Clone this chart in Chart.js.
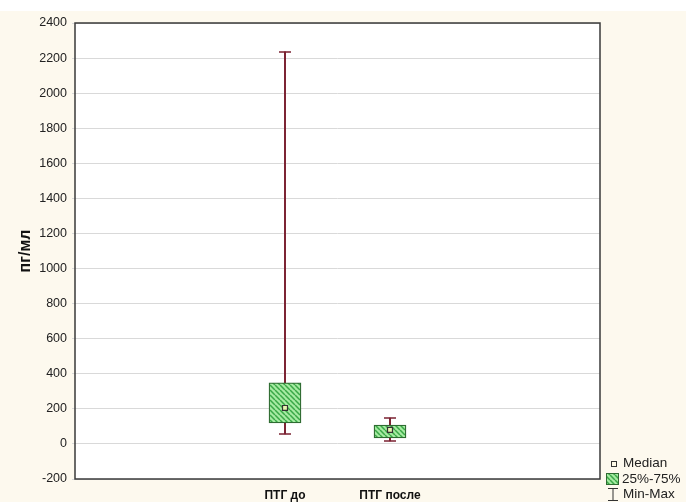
<!DOCTYPE html>
<html>
<head>
<meta charset="utf-8">
<script src="https://cdn.jsdelivr.net/npm/chart.js@4"></script>
<style>
  html, body { margin: 0; padding: 0; background: #fff; }
  #wrap { width: 686px; height: 502px; }
</style>
</head>
<body>
<div id="wrap"><canvas id="grafico" width="686" height="502"></canvas></div>
<script>
// dados
const categorias = ['', '', 'ПТГ до', 'ПТГ после', '', ''];
const minimos  = [null, null, 57, 17, null, null];
const maximos  = [null, null, 2235, 148, null, null];
const q1       = [null, null, 120, 34, null, null];
const q3       = [null, null, 348, 108, null, null];
const medianas = [null, null, 205, 80, null, null];
const yTicks   = { min: -200, max: 2400, step: 200 };

const VERDE_ESC = '#2f6b32';
const VINHO = '#7a2030';
const FONTE = '"Liberation Sans", Arial, sans-serif';

// hachura do box
function hachura() {
  const c = document.createElement('canvas');
  c.width = 5; c.height = 5;
  const g = c.getContext('2d');
  g.fillStyle = '#a6eaa2';
  g.fillRect(0, 0, 5, 5);
  g.strokeStyle = '#3aa847';
  g.lineWidth = 1.5;
  g.beginPath();
  for (let k = -5; k <= 10; k += 5) { g.moveTo(k, 0); g.lineTo(k + 5, 5); }
  g.stroke();
  return g.createPattern(c, 'repeat');
}
const padrao = hachura();

const intervalo = (a, b) => a.map((v, i) => v == null ? null : [v, b[i]]);

const fundo = {
  id: 'fundo',
  beforeDraw(ch) {
    const { ctx, chartArea: a } = ch;
    ctx.save();
    ctx.fillStyle = '#fff';
    ctx.fillRect(0, 0, ch.width, ch.height);
    ctx.fillStyle = '#fdf9ee';
    ctx.fillRect(0, 11, ch.width, ch.height - 11);
    ctx.fillStyle = '#fff';
    ctx.fillRect(a.left, a.top, a.right - a.left, a.bottom - a.top);
    ctx.restore();
  },
  afterDraw(ch) {
    const { ctx, chartArea: a } = ch;
    ctx.save();
    ctx.strokeStyle = '#3a3a3a';
    ctx.lineWidth = 1.5;
    ctx.strokeRect(a.left, a.top, a.right - a.left, a.bottom - a.top);

    // legenda
    const x = 606;
    ctx.font = '13.5px ' + FONTE;
    ctx.textBaseline = 'middle';
    ctx.lineWidth = 1;
    // Median
    ctx.fillStyle = '#fffbe8';
    ctx.fillRect(x + 5, 461, 6, 6);
    ctx.strokeStyle = '#333';
    ctx.strokeRect(x + 5.5, 461.5, 5, 5);
    ctx.fillStyle = '#222';
    ctx.fillText('Median', x + 17, 463);
    // 25%-75%
    ctx.fillStyle = padrao;
    ctx.fillRect(x, 473, 13, 12);
    ctx.strokeStyle = VERDE_ESC;
    ctx.strokeRect(x + 0.5, 473.5, 12, 11);
    ctx.fillStyle = '#222';
    ctx.fillText('25%-75%', x + 16, 479);
    // Min-Max
    ctx.strokeStyle = '#333';
    ctx.beginPath();
    ctx.moveTo(x + 2, 488.5); ctx.lineTo(x + 12, 488.5);
    ctx.moveTo(x + 7, 488.5); ctx.lineTo(x + 7, 500.5);
    ctx.moveTo(x + 2, 500.5); ctx.lineTo(x + 12, 500.5);
    ctx.stroke();
    ctx.fillStyle = '#222';
    ctx.fillText('Min-Max', x + 17, 494);
    ctx.restore();
  }
};

new Chart(document.getElementById('grafico'), {
  type: 'bar',
  data: {
    labels: categorias,
    datasets: [
      { label: 'Min-Max', data: intervalo(minimos, maximos), backgroundColor: VINHO,
        barThickness: 1.3, grouped: false, order: 4 },
      { label: '25%-75%', data: intervalo(q1, q3), backgroundColor: padrao,
        borderColor: VERDE_ESC, borderWidth: 1.3, borderSkipped: false,
        barThickness: 32, grouped: false, order: 3 },
      { type: 'line', label: 'max', data: maximos, showLine: false, pointStyle: 'line',
        pointRadius: 6, pointBorderColor: VINHO, pointBorderWidth: 1.5, order: 2 },
      { type: 'line', label: 'min', data: minimos, showLine: false, pointStyle: 'line',
        pointRadius: 6, pointBorderColor: VINHO, pointBorderWidth: 1.5, order: 2 },
      { type: 'line', label: 'Median', data: medianas, showLine: false, pointStyle: 'rect',
        pointRadius: 3.5, pointBackgroundColor: '#e8f5b0', pointBorderColor: '#333',
        pointBorderWidth: 1.2, order: 1 }
    ]
  },
  options: {
    responsive: false,
    animation: false,
    layout: { padding: { top: 23, right: 86, left: 0, bottom: 0 } },
    plugins: { legend: { display: false }, tooltip: { enabled: false } },
    scales: {
      x: {
        offset: false,
        grid: { display: false, drawTicks: true, tickLength: 4, color: '#333' },
        border: { display: false },
        ticks: { color: '#111', font: { family: FONTE, size: 12, weight: 'bold' },
                 padding: 5, maxRotation: 0, autoSkip: false },
        afterFit: s => { s.height = 23; }
      },
      y: {
        min: yTicks.min, max: yTicks.max,
        ticks: { stepSize: yTicks.step, color: '#222', font: { family: FONTE, size: 12.5 },
                 padding: 5, callback: v => String(v) },
        grid: { color: '#d9d9d9', lineWidth: 1, tickLength: 3 },
        border: { display: false },
        title: { display: true, text: 'пг/мл', color: '#111',
                 font: { family: FONTE, size: 16, weight: 'bold' }, padding: { top: 16, bottom: 0 } },
        afterFit: s => { s.width = 75; }
      }
    }
  },
  plugins: [fundo]
});
</script>
</body>
</html>
